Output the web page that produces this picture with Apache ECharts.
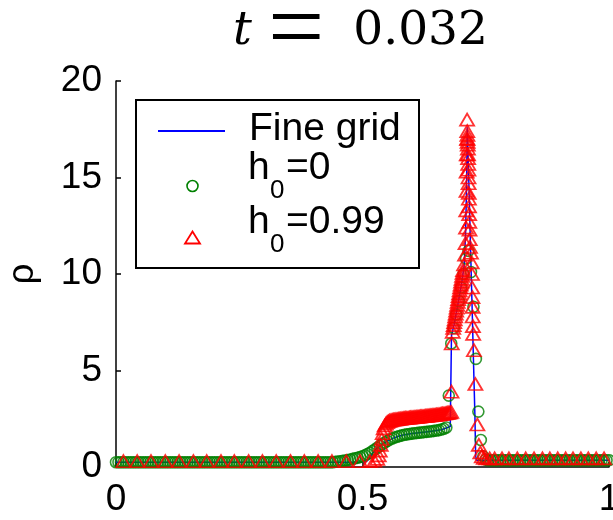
<!DOCTYPE html>
<html>
<head>
<meta charset="utf-8">
<script src="https://cdn.jsdelivr.net/npm/echarts@6/dist/echarts.min.js"></script>
<style>
  html, body { margin: 0; padding: 0; background: #fff; }
  #chart { width: 613px; height: 520px; }
</style>
</head>
<body>
<div id="chart"></div>
<script>
// Axis ticks
const xTicks = [0, 0.5, 1];
const yTicks = [0, 5, 10, 15, 20];

// Fine-grid reference solution (solid blue line)
const fineX = [0, 0.505, 0.51, 0.515, 0.52, 0.525, 0.53, 0.54, 0.55, 0.56, 0.57, 0.58, 0.6, 0.62, 0.64, 0.66, 0.67, 0.678, 0.6795,
  0.6805, 0.686, 0.694, 0.701, 0.706, 0.709, 0.711, 0.7125, 0.716, 0.719, 0.722, 0.725, 0.728, 0.7295, 0.731, 1];
const fineRho = [0.25, 0.25, 0.33, 0.5, 0.7, 0.85, 0.98, 1.18, 1.34, 1.47, 1.57, 1.64, 1.73, 1.79, 1.85, 1.93, 2.02, 2.1, 2.15,
  6.8, 7.4, 8.5, 9.5, 10.4, 12.0, 14.5, 17.6, 14.5, 11.5, 8.6, 5.6, 2.7, 0.6, 0.35, 0.35];

// h0 = 0 : uniform mesh (green circles)
const h0X = [
  0, 0.005, 0.01, 0.015, 0.02, 0.025, 0.03, 0.035, 0.04, 0.045, 0.05, 0.055, 0.06, 0.065, 0.07, 0.075, 0.08, 0.085, 0.09, 0.095,
  0.1, 0.105, 0.11, 0.115, 0.12, 0.125, 0.13, 0.135, 0.14, 0.145, 0.15, 0.155, 0.16, 0.165, 0.17, 0.175, 0.18, 0.185, 0.19, 0.195,
  0.2, 0.205, 0.21, 0.215, 0.22, 0.225, 0.23, 0.235, 0.24, 0.245, 0.25, 0.255, 0.26, 0.265, 0.27, 0.275, 0.28, 0.285, 0.29, 0.295,
  0.3, 0.305, 0.31, 0.315, 0.32, 0.325, 0.33, 0.335, 0.34, 0.345, 0.35, 0.355, 0.36, 0.365, 0.37, 0.375, 0.38, 0.385, 0.39, 0.395,
  0.4, 0.405, 0.41, 0.415, 0.42, 0.425, 0.43, 0.435, 0.44, 0.445, 0.45, 0.455, 0.46, 0.465, 0.47, 0.475, 0.48, 0.485, 0.49, 0.495,
  0.5, 0.505, 0.51, 0.515, 0.52, 0.525, 0.53, 0.535, 0.54, 0.545, 0.55, 0.555, 0.56, 0.565, 0.57, 0.575, 0.58, 0.585, 0.59, 0.595,
  0.6, 0.605, 0.61, 0.615, 0.62, 0.625, 0.63, 0.635, 0.64, 0.645, 0.65, 0.655, 0.66, 0.665, 0.67, 0.675, 0.68, 0.685, 0.69, 0.695,
  0.7, 0.705, 0.71, 0.715, 0.72, 0.725, 0.73, 0.735, 0.74, 0.745, 0.75, 0.755, 0.76, 0.765, 0.77, 0.775, 0.78, 0.785, 0.79, 0.795,
  0.8, 0.805, 0.81, 0.815, 0.82, 0.825, 0.83, 0.835, 0.84, 0.845, 0.85, 0.855, 0.86, 0.865, 0.87, 0.875, 0.88, 0.885, 0.89, 0.895,
  0.9, 0.905, 0.91, 0.915, 0.92, 0.925, 0.93, 0.935, 0.94, 0.945, 0.95, 0.955, 0.96, 0.965, 0.97, 0.975, 0.98, 0.985, 0.99, 0.995,
  1
];
const h0Rho = [
  0.25, 0.25, 0.25, 0.25, 0.25, 0.25, 0.25, 0.25, 0.25, 0.25, 0.25, 0.25, 0.25, 0.25, 0.25, 0.25, 0.25, 0.25, 0.25, 0.25,
  0.25, 0.25, 0.25, 0.25, 0.25, 0.25, 0.25, 0.25, 0.25, 0.25, 0.25, 0.25, 0.25, 0.25, 0.25, 0.25, 0.25, 0.25, 0.25, 0.25,
  0.25, 0.25, 0.25, 0.25, 0.25, 0.25, 0.25, 0.25, 0.25, 0.25, 0.25, 0.25, 0.25, 0.25, 0.25, 0.25, 0.25, 0.25, 0.25, 0.25,
  0.25, 0.25, 0.25, 0.25, 0.25, 0.25, 0.25, 0.25, 0.25, 0.25, 0.25, 0.25, 0.25, 0.25, 0.25, 0.25, 0.25, 0.25, 0.25, 0.25,
  0.25, 0.25, 0.25, 0.25, 0.25, 0.25, 0.25, 0.25, 0.25, 0.27, 0.28, 0.30, 0.32, 0.34, 0.36, 0.39, 0.42, 0.45, 0.48, 0.52,
  0.56, 0.61, 0.67, 0.74, 0.82, 0.91, 1.00, 1.09, 1.18, 1.27, 1.35, 1.42, 1.48, 1.53, 1.57, 1.61, 1.64, 1.67, 1.69, 1.71,
  1.73, 1.75, 1.76, 1.78, 1.79, 1.81, 1.82, 1.84, 1.85, 1.87, 1.89, 1.91, 1.94, 1.98, 2.05, 3.7, 6.4, 7.2, 7.9, 8.6,
  9.3, 10.0, 10.8, 11.2, 10.1, 8.3, 5.6, 2.87, 1.4, 0.55, 0.38, 0.35, 0.35, 0.35, 0.35, 0.35, 0.35, 0.35, 0.35, 0.35,
  0.35, 0.35, 0.35, 0.35, 0.35, 0.35, 0.35, 0.35, 0.35, 0.35, 0.35, 0.35, 0.35, 0.35, 0.35, 0.35, 0.35, 0.35, 0.35, 0.35,
  0.35, 0.35, 0.35, 0.35, 0.35, 0.35, 0.35, 0.35, 0.35, 0.35, 0.35, 0.35, 0.35, 0.35, 0.35, 0.35, 0.35, 0.35, 0.35, 0.35,
  0.35
];

// h0 = 0.99 : adaptive mesh (red triangles)
const h99X = [
  0.015, 0.043, 0.071, 0.100, 0.128, 0.157, 0.184, 0.213, 0.240, 0.269, 0.297, 0.325, 0.354, 0.382, 0.410, 0.438, 0.467, 0.495,
  0.515, 0.524, 0.530, 0.533, 0.535, 0.537, 0.539, 0.541, 0.543,
  0.545, 0.5475, 0.55, 0.5525, 0.555, 0.5575, 0.56, 0.5625, 0.565, 0.5675, 0.57, 0.5725, 0.575, 0.5775, 0.58, 0.5825, 0.585, 0.5875,
  0.59, 0.5925, 0.595, 0.5975, 0.60, 0.6025, 0.605, 0.6075, 0.61, 0.6125, 0.615, 0.6175, 0.62, 0.6225, 0.625, 0.6275, 0.63, 0.6325,
  0.635, 0.6375, 0.64, 0.6425, 0.645, 0.6475, 0.65, 0.6525, 0.655, 0.6575, 0.66, 0.6625, 0.665, 0.6675, 0.67, 0.6725, 0.675, 0.6775, 0.68,
  0.6805, 0.681,
  0.683, 0.684, 0.685, 0.686, 0.687, 0.688, 0.689, 0.690, 0.691, 0.692, 0.693, 0.694, 0.695, 0.696, 0.697, 0.698, 0.699, 0.700,
  0.701, 0.702, 0.703, 0.704,
  0.706, 0.708, 0.709, 0.710, 0.7105, 0.711, 0.7112, 0.7115, 0.712, 0.7122,
  0.7125, 0.7128, 0.713, 0.7132, 0.7135, 0.7138, 0.714, 0.7142, 0.7145, 0.7148, 0.715, 0.7152, 0.7155, 0.7158, 0.716, 0.7163,
  0.7166, 0.717, 0.7175, 0.718, 0.72, 0.7215, 0.722, 0.7225, 0.723, 0.7232, 0.7235, 0.724, 0.7245, 0.726, 0.729, 0.733, 0.736,
  0.739, 0.742, 0.746, 0.751, 0.758,
  0.768, 0.783, 0.797, 0.814, 0.831, 0.848, 0.865, 0.880, 0.896, 0.912, 0.927, 0.943, 0.958, 0.974, 0.990
];
const h99Rho = [
  0.3, 0.3, 0.3, 0.3, 0.3, 0.3, 0.3, 0.3, 0.3, 0.3, 0.3, 0.3, 0.3, 0.3, 0.3, 0.3, 0.3, 0.3,
  0.3, 0.33, 0.42, 0.6, 0.85, 1.15, 1.45, 1.75, 2.0,
  2.15, 2.25, 2.32, 2.37, 2.40, 2.42, 2.44, 2.45, 2.46, 2.47, 2.48, 2.49, 2.50, 2.51, 2.52, 2.53, 2.53, 2.54,
  2.55, 2.55, 2.56, 2.57, 2.57, 2.58, 2.59, 2.59, 2.60, 2.61, 2.61, 2.62, 2.63, 2.63, 2.64, 2.65, 2.65, 2.66,
  2.67, 2.67, 2.68, 2.69, 2.70, 2.70, 2.71, 2.72, 2.73, 2.74, 2.75, 2.76, 2.77, 2.78, 2.79, 2.80, 2.82, 2.83, 2.85,
  3.9, 6.4,
  7.0, 7.2, 7.35, 7.5, 7.65, 7.8, 7.95, 8.1, 8.25, 8.4, 8.55, 8.7, 8.85, 9.0, 9.15, 9.3, 9.45, 9.6,
  9.75, 9.9, 10.05, 10.2,
  10.5, 11.0, 11.6, 12.4, 13.3, 14.3, 15.3, 16.2, 17.0, 18.0,
  17.4, 17.2, 17.0, 16.85, 16.7, 16.5, 16.2, 16.0, 15.7, 15.4, 15.0, 14.7, 14.2, 13.9, 13.5, 13.1,
  12.7, 12.3, 11.8, 11.4, 11.1, 10.6, 10.0, 9.3, 8.8, 8.3, 7.8, 7.3, 6.9, 6.05, 4.3, 2.2, 1.15,
  0.75, 0.55, 0.47, 0.45, 0.45,
  0.45, 0.45, 0.45, 0.45, 0.45, 0.45, 0.45, 0.45, 0.45, 0.45, 0.45, 0.45, 0.45, 0.45, 0.45
];

// Legend entries
const legendNames = ['Fine grid', 'h0=0', 'h0=0.99'];

const pairs = (xs, ys) => xs.map((x, i) => [x, ys[i]]);

const SANS = 'Liberation Sans, Arial, sans-serif';
const SERIF = 'DejaVu Serif, serif';
const BLUE = '#0000ff', GREEN = '#008000', RED = '#ff0000';

// Legend box drawn as a MATLAB-style key: sample line / marker + label with subscript
function legendGraphics() {
  const txt = (x, y, s, size) => ({
    type: 'text', x: x, y: y, silent: true, z: 12,
    style: { text: s, fill: '#000', font: size + 'px ' + SANS, textVerticalAlign: 'middle', verticalAlign: 'middle' }
  });
  const items = [
    { type: 'rect', z: 10, silent: true, shape: { x: 136, y: 100, width: 283, height: 168 },
      style: { fill: '#fff', stroke: '#000', lineWidth: 2 } },
    { type: 'line', z: 11, silent: true, shape: { x1: 158, y1: 131, x2: 225, y2: 131 },
      style: { stroke: BLUE, lineWidth: 2 } },
    { type: 'circle', z: 11, silent: true, shape: { cx: 192.5, cy: 186, r: 5.5 },
      style: { fill: 'none', stroke: GREEN, lineWidth: 1.6 } },
    { type: 'polygon', z: 11, silent: true, shape: { points: [[192.5, 231.5], [200, 243.5], [185, 243.5]] },
      style: { fill: 'none', stroke: RED, lineWidth: 1.8 } },
    txt(249, 129, legendNames[0], 39)
  ];
  [[legendNames[1], 168.5], [legendNames[2], 222.5]].forEach(([name, y]) => {
    const rest = name.slice(2);
    items.push(txt(248, y, 'h', 39));
    items.push(txt(270, y + 22.5, '0', 26));
    items.push(txt(286, y, rest, 39));
  });
  return items;
}

const chart = echarts.init(document.getElementById('chart'), null, { renderer: 'canvas' });

chart.setOption({
  animation: false,
  backgroundColor: '#fff',
  title: {
    text: '{t|t}{e|=}{n|0.032}',
    left: 228,
    top: -25,
    textStyle: {
      fontWeight: 'normal',
      rich: {
        t: { fontFamily: SERIF, fontStyle: 'italic', fontWeight: 'normal', fontSize: 47, color: '#000', padding: [0, 16, 0, 0] },
        e: { fontFamily: 'Liberation Serif, serif', fontWeight: 'normal', fontSize: 100, color: '#000', padding: [4, 29, 0, 0] },
        n: { fontFamily: SERIF, fontWeight: 'normal', fontSize: 47, color: '#000' }
      }
    }
  },
  grid: { left: 116, right: 4, top: 81, bottom: 53, containLabel: false, outerBoundsMode: 'none' },
  xAxis: {
    type: 'value',
    min: xTicks[0],
    max: xTicks[xTicks.length - 1],
    interval: xTicks[1] - xTicks[0],
    splitLine: { show: false },
    axisLine: { lineStyle: { color: '#000', width: 1.5 } },
    axisTick: { inside: true, length: 5, lineStyle: { color: '#000', width: 1.5 } },
    axisLabel: { color: '#000', fontFamily: SANS, fontSize: 37, margin: 14,
      formatter: v => String(v) }
  },
  yAxis: {
    type: 'value',
    min: yTicks[0],
    max: yTicks[yTicks.length - 1],
    interval: yTicks[1] - yTicks[0],
    name: 'ρ',
    nameLocation: 'middle',
    nameGap: 75,
    nameTextStyle: { color: '#000', fontFamily: SANS, fontSize: 37 },
    splitLine: { show: false },
    axisLine: { show: true, lineStyle: { color: '#000', width: 1.5 } },
    axisTick: { show: true, inside: true, length: 5, lineStyle: { color: '#000', width: 1.5 } },
    axisLabel: { color: '#000', fontFamily: SANS, fontSize: 37, margin: 14 }
  },
  graphic: legendGraphics(),
  series: [
    {
      name: legendNames[0],
      type: 'line',
      data: pairs(fineX, fineRho),
      symbol: 'none',
      lineStyle: { color: BLUE, width: 1.5 },
      itemStyle: { color: BLUE },
      z: 2
    },
    {
      name: legendNames[1],
      type: 'scatter',
      data: pairs(h0X, h0Rho),
      symbol: 'circle',
      symbolSize: 11,
      itemStyle: { color: 'rgba(0,0,0,0)', borderColor: GREEN, borderWidth: 1.6 },
      z: 3
    },
    {
      name: legendNames[2],
      type: 'scatter',
      data: pairs(h99X, h99Rho),
      symbol: 'triangle',
      symbolSize: [14, 12],
      itemStyle: { color: 'rgba(0,0,0,0)', borderColor: RED, borderWidth: 1.8 },
      z: 4
    }
  ]
});
</script>
</body>
</html>
